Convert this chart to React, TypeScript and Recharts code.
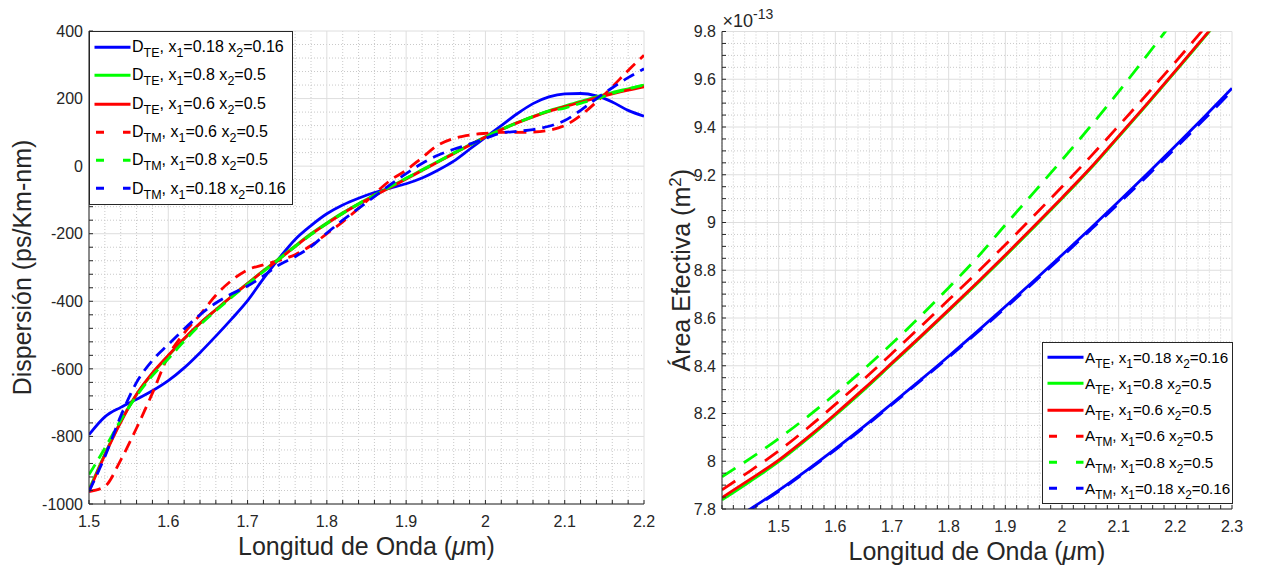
import { LineChart, Line, XAxis, YAxis, CartesianGrid, Legend, Label } from 'recharts'

const FONT = '"Liberation Sans", Arial, Helvetica, sans-serif'
const INK = '#262626'

// Dispersion panel, ps/Km-nm against wavelength in um
const dispLambda = [
  1.5, 1.52, 1.54, 1.56, 1.58, 1.6, 1.62, 1.64, 1.66, 1.68, 1.7, 1.72, 1.74, 1.76, 1.78, 1.8, 1.82, 1.84,
  1.86, 1.88, 1.9, 1.92, 1.94, 1.96, 1.98, 2, 2.02, 2.04, 2.06, 2.08, 2.1, 2.12, 2.14, 2.16, 2.18, 2.2,
]
const dispTE018 = [
  -795, -742, -714, -690, -665, -635, -597, -552, -503, -452, -398, -333, -272, -217, -176, -141, -115, -95,
  -78, -65, -52, -35, -12, 15, 50, 85, 120, 155, 185, 205, 214, 215, 208, 190, 165, 148,
]
const dispTE08 = [
  -958, -852, -756, -676, -614, -562, -512, -466, -425, -385, -347, -309, -273, -236, -200, -168, -138, -111,
  -86, -61, -36, -11, 14, 39, 63, 87, 109, 129, 147, 164, 178, 192, 205, 218, 229, 240,
]
const dispTE06 = [
  -963, -855, -758, -675, -612, -560, -510, -465, -425, -385, -348, -310, -275, -238, -202, -170, -140, -113,
  -88, -63, -38, -13, 12, 37, 62, 86, 108, 128, 146, 162, 176, 189, 202, 214, 225, 235,
]
const dispTM06 = [
  -963, -948, -870, -775, -672, -562, -494, -440, -382, -338, -307, -292, -279, -262, -235, -200, -165, -125,
  -82, -42, -12, 25, 62, 82, 92, 97, 100, 100, 101, 106, 120, 150, 190, 235, 283, 328,
]
const dispTM08 = [
  -913, -835, -752, -680, -620, -570, -518, -470, -428, -388, -350, -312, -275, -238, -203, -170, -140, -112,
  -86, -61, -36, -12, 13, 38, 62, 86, 108, 128, 147, 163, 172, 186, 199, 215, 228, 240,
]
const dispTM018 = [
  -963, -860, -740, -640, -575, -528, -482, -440, -405, -378, -355, -325, -292, -268, -238, -198, -160, -125,
  -90, -55, -22, 8, 32, 50, 65, 82, 98, 103, 108, 118, 135, 165, 200, 232, 262, 288,
]
const dispXTicks = [1.5, 1.6, 1.7, 1.8, 1.9, 2, 2.1, 2.2]
const dispXLabels = ['1.5', '1.6', '1.7', '1.8', '1.9', '2', '2.1', '2.2']
const dispYTicks = [-1000, -800, -600, -400, -200, 0, 200, 400]
const dispYLabels = ['-1000', '-800', '-600', '-400', '-200', '0', '200', '400']

// Effective area panel, in units of 1e-13 m^2
const areaLambda = [1.4, 1.45, 1.5, 1.55, 1.6, 1.65, 1.7, 1.75, 1.8, 1.85, 1.9, 1.95, 2, 2.05, 2.1, 2.15, 2.2, 2.25, 2.3]
const areaTE018 = [7.725, 7.8, 7.878, 7.963, 8.052, 8.145, 8.242, 8.34, 8.44, 8.543, 8.648, 8.755, 8.864, 8.975, 9.088, 9.203, 9.32, 9.44, 9.562]
const areaTE08 = [7.838, 7.916, 7.998, 8.092, 8.193, 8.298, 8.408, 8.518, 8.63, 8.744, 8.86, 8.979, 9.1, 9.225, 9.359, 9.494, 9.632, 9.772, 9.912]
const areaTE06 = [7.848, 7.925, 8.005, 8.098, 8.198, 8.303, 8.412, 8.522, 8.634, 8.748, 8.864, 8.983, 9.104, 9.228, 9.362, 9.497, 9.635, 9.775, 9.915]
const areaTM06 = [7.88, 7.96, 8.043, 8.137, 8.238, 8.343, 8.452, 8.563, 8.676, 8.79, 8.907, 9.027, 9.15, 9.275, 9.405, 9.537, 9.672, 9.81, 9.95]
const areaTM08 = [7.935, 8.012, 8.095, 8.185, 8.282, 8.385, 8.493, 8.607, 8.727, 8.852, 8.99, 9.125, 9.262, 9.402, 9.548, 9.7, 9.855, 10.01, 10.17]
const areaTM018 = [7.722, 7.797, 7.874, 7.959, 8.048, 8.141, 8.238, 8.336, 8.436, 8.538, 8.642, 8.749, 8.857, 8.968, 9.08, 9.194, 9.311, 9.43, 9.552]
const areaXTicks = [1.5, 1.6, 1.7, 1.8, 1.9, 2, 2.1, 2.2, 2.3]
const areaXLabels = ['1.5', '1.6', '1.7', '1.8', '1.9', '2', '2.1', '2.2', '2.3']
const areaYTicks = [7.8, 8, 8.2, 8.4, 8.6, 8.8, 9, 9.2, 9.4, 9.6, 9.8]
const areaYLabels = ['7.8', '8', '8.2', '8.4', '8.6', '8.8', '9', '9.2', '9.4', '9.6', '9.8']

const SERIES = [
  { key: 'te018', color: '#0000ff', dashed: false, mode: 'TE', x1: '0.18', x2: '0.16' },
  { key: 'te08', color: '#00ff00', dashed: false, mode: 'TE', x1: '0.8', x2: '0.5' },
  { key: 'te06', color: '#ff0000', dashed: false, mode: 'TE', x1: '0.6', x2: '0.5' },
  { key: 'tm06', color: '#ff0000', dashed: true, mode: 'TM', x1: '0.6', x2: '0.5' },
  { key: 'tm08', color: '#00ff00', dashed: true, mode: 'TM', x1: '0.8', x2: '0.5' },
  { key: 'tm018', color: '#0000ff', dashed: true, mode: 'TM', x1: '0.18', x2: '0.16' },
]

const dispData = dispLambda.map((l, i) => ({
  l,
  te018: dispTE018[i],
  te08: dispTE08[i],
  te06: dispTE06[i],
  tm06: dispTM06[i],
  tm08: dispTM08[i],
  tm018: dispTM018[i],
}))

const areaData = areaLambda.map((l, i) => ({
  l,
  te018: areaTE018[i],
  te08: areaTE08[i],
  te06: areaTE06[i],
  tm06: areaTM06[i],
  tm08: areaTM08[i],
  tm018: areaTM018[i],
}))

// minor tick / grid positions between the labelled ticks
function steps(from: number, to: number, step: number) {
  const out: number[] = []
  const n = Math.round((to - from) / step)
  for (let i = 0; i <= n; i++) out.push(Math.round((from + i * step) * 1000) / 1000)
  return out
}
const isIn = (list: number[], v: number) => list.some((m) => Math.abs(m - v) < 1e-6)
const minorOf = (all: number[], majors: number[]) => all.filter((v) => !isIn(majors, v))

const dispXAll = steps(1.5, 2.2, 0.02)
const dispYAll = steps(-1000, 400, 40)
const areaXAll = steps(1.4, 2.3, 0.02)
const areaYAll = steps(7.8, 9.8, 0.05)

type Side = 'bottom' | 'top' | 'left' | 'right'

function tickFor(side: Side, majors: number[], labels: string[]) {
  return (p: any) => {
    const { x, y, payload } = p
    const v = payload.value as number
    const idx = majors.findIndex((m) => Math.abs(m - v) < 1e-6)
    const len = 4
    let line
    if (side === 'bottom') line = <line x1={x} x2={x} y1={y} y2={y - len} />
    else if (side === 'top') line = <line x1={x} x2={x} y1={y} y2={y + len} />
    else if (side === 'left') line = <line x1={x} x2={x + len} y1={y} y2={y} />
    else line = <line x1={x} x2={x - len} y1={y} y2={y} />
    return (
      <g stroke={INK} strokeWidth={1}>
        {line}
        {idx >= 0 && side === 'bottom' && (
          <text x={x} y={y + 23} textAnchor="middle" fontSize={16} fill={INK} stroke="none" fontFamily={FONT}>
            {labels[idx]}
          </text>
        )}
        {idx >= 0 && side === 'left' && (
          <text x={x - 6} y={y} dy="0.36em" textAnchor="end" fontSize={16} fill={INK} stroke="none" fontFamily={FONT}>
            {labels[idx]}
          </text>
        )}
      </g>
    )
  }
}

const XTitle = (props: any) => {
  const { viewBox } = props
  return (
    <text x={viewBox.x + viewBox.width / 2} y={viewBox.y + 51} textAnchor="middle" fontSize={25} fill={INK} fontFamily={FONT}>
      Longitud de Onda (<tspan fontStyle="italic">μ</tspan>m)
    </text>
  )
}

const DispYTitle = (props: any) => {
  const { viewBox } = props
  const cx = viewBox.x + 31
  const cy = viewBox.y + viewBox.height / 2
  return (
    <text x={cx} y={cy} transform={`rotate(-90 ${cx} ${cy})`} textAnchor="middle" fontSize={25} fill={INK} fontFamily={FONT}>
      Dispersión (ps/Km-nm)
    </text>
  )
}

const AreaYTitle = (props: any) => {
  const { viewBox } = props
  const cx = viewBox.x + 30
  const cy = viewBox.y + viewBox.height / 2
  const px = viewBox.x + viewBox.width + 0.5
  return (
    <g>
      <text x={cx} y={cy} transform={`rotate(-90 ${cx} ${cy})`} textAnchor="middle" fontSize={25} fill={INK} fontFamily={FONT}>
        Área Efectiva (m<tspan fontSize={17} dy={-9}>2</tspan>
        <tspan dy={9}>)</tspan>
      </text>
      <text x={px} y={viewBox.y - 5} fontSize={18} fill={INK} fontFamily={FONT}>
        ×10<tspan fontSize={14} dy={-8}>-13</tspan>
      </text>
    </g>
  )
}

function LegendBox({ prefix, rowH, width, fontSize }: { prefix: string; rowH: number; width: number; fontSize: number }) {
  const sub = { fontSize: fontSize * 0.78, position: 'relative' as const, top: 5, lineHeight: 0, verticalAlign: 'baseline' }
  return (
    <div style={{ border: `1px solid ${INK}`, background: '#fff', width, padding: '1px 0', fontFamily: FONT, boxSizing: 'border-box' }}>
      {SERIES.map((s) => (
        <div key={s.key} style={{ height: rowH, display: 'flex', alignItems: 'center', whiteSpace: 'nowrap', fontSize, color: '#000', lineHeight: 1 }}>
          <svg width={42} height={rowH} style={{ flex: 'none' }}>
            <line
              x1={s.dashed ? 6 : 4.5}
              x2={40.5}
              y1={rowH / 2}
              y2={rowH / 2}
              stroke={s.color}
              strokeWidth={3}
              strokeDasharray={s.dashed ? '8 19' : undefined}
            />
          </svg>
          <span>
            {prefix}
            <span style={sub}>{s.mode}</span>, x<span style={sub}>1</span>={s.x1} x<span style={sub}>2</span>={s.x2}
          </span>
        </div>
      ))}
    </div>
  )
}

function Frame({
  xDomain, yDomain, xMajors, xLabels, yMajors, yLabels, xAll, yAll, yWidth, xHeight, yTitle,
}: any) {
  const xMinor = minorOf(xAll, xMajors)
  const yMinor = minorOf(yAll, yMajors)
  return [
    <CartesianGrid key="gm" stroke="#c9c9c9" strokeDasharray="1 2" verticalValues={xMinor} horizontalValues={yMinor} />,
    <CartesianGrid key="gM" stroke="#dedede" verticalValues={xMajors} horizontalValues={yMajors} />,
    <XAxis
      key="xb"
      dataKey="l"
      type="number"
      domain={xDomain}
      allowDataOverflow
      ticks={xAll}
      interval={0}
      height={xHeight}
      tickSize={0}
      tickMargin={0}
      tickLine={false}
      axisLine={{ stroke: INK }}
      tick={tickFor('bottom', xMajors, xLabels)}
    >
      <Label content={<XTitle />} />
    </XAxis>,
    <XAxis
      key="xt"
      xAxisId="top"
      orientation="top"
      type="number"
      domain={xDomain}
      allowDataOverflow
      ticks={xAll}
      interval={0}
      height={0}
      tickSize={0}
      tickMargin={0}
      tickLine={false}
      axisLine={{ stroke: INK }}
      tick={tickFor('top', xMajors, xLabels)}
    />,
    <YAxis
      key="yl"
      type="number"
      domain={yDomain}
      allowDataOverflow
      ticks={yAll}
      interval={0}
      width={yWidth}
      tickSize={0}
      tickMargin={0}
      tickLine={false}
      axisLine={{ stroke: INK }}
      tick={tickFor('left', yMajors, yLabels)}
    >
      <Label content={yTitle} />
    </YAxis>,
    <YAxis
      key="yr"
      yAxisId="right"
      orientation="right"
      type="number"
      domain={yDomain}
      allowDataOverflow
      ticks={yAll}
      interval={0}
      width={0}
      tickSize={0}
      tickMargin={0}
      tickLine={false}
      axisLine={{ stroke: INK }}
      tick={tickFor('right', yMajors, yLabels)}
    />,
  ]
}

function seriesLines(names: string, dash: string) {
  return SERIES.map((s) => (
    <Line
      key={s.key}
      dataKey={s.key}
      name={`${names}${s.mode}, x1=${s.x1} x2=${s.x2}`}
      type="monotone"
      stroke={s.color}
      strokeWidth={2.8}
      strokeDasharray={s.dashed ? dash : undefined}
      dot={false}
      activeDot={false}
      isAnimationActive={false}
    />
  ))
}

export default function App() {
  return (
    <div style={{ position: 'absolute', left: 0, top: 0, width: 1263, height: 565, background: '#fff', fontFamily: FONT }}>
      <div style={{ position: 'absolute', left: 0, top: 0 }}>
        <LineChart width={660} height={565} data={dispData} margin={{ top: 31, right: 16, bottom: 0, left: 0 }}>
          {Frame({
            xDomain: [1.5, 2.2],
            yDomain: [-1000, 400],
            xMajors: dispXTicks,
            xLabels: dispXLabels,
            yMajors: dispYTicks,
            yLabels: dispYLabels,
            xAll: dispXAll,
            yAll: dispYAll,
            yWidth: 89,
            xHeight: 61,
            yTitle: <DispYTitle />,
          })}
          {seriesLines('D', '12 7')}
          <Legend
            layout="vertical"
            align="center"
            verticalAlign="middle"
            wrapperStyle={{ left: 89, top: 31, width: 'auto' }}
            content={() => <LegendBox prefix="D" rowH={28.3} width={204} fontSize={16} />}
          />
        </LineChart>
      </div>
      <div style={{ position: 'absolute', left: 660, top: 0 }}>
        <LineChart width={603} height={565} data={areaData} margin={{ top: 31.5, right: 31, bottom: 0, left: 0 }}>
          {Frame({
            xDomain: [1.4, 2.3],
            yDomain: [7.8, 9.8],
            xMajors: areaXTicks,
            xLabels: areaXLabels,
            yMajors: areaYTicks,
            yLabels: areaYLabels,
            xAll: areaXAll,
            yAll: areaYAll,
            yWidth: 62,
            xHeight: 56,
            yTitle: <AreaYTitle />,
          })}
          {seriesLines('A', '16 10')}
          <Legend
            layout="vertical"
            align="center"
            verticalAlign="middle"
            wrapperStyle={{ left: 382, top: 342, width: 'auto' }}
            content={() => <LegendBox prefix="A" rowH={26.3} width={191} fontSize={15.2} />}
          />
        </LineChart>
      </div>
    </div>
  )
}
